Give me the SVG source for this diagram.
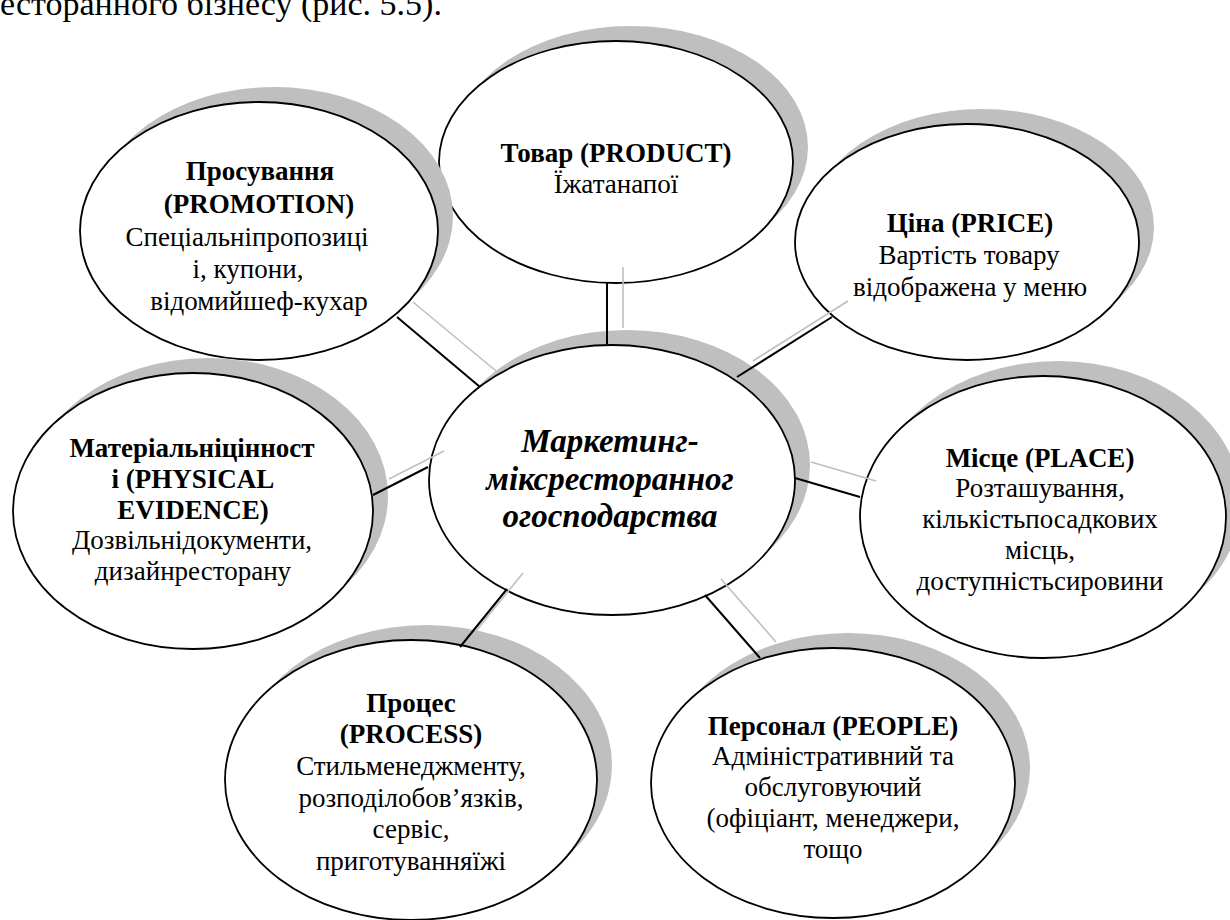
<svg xmlns="http://www.w3.org/2000/svg" width="1230" height="920" viewBox="0 0 1230 920">
  <style>
    .bg { fill: #ffffff; }
    .shadow { fill: #bfbfbf; stroke: none; }
    .oval { fill: #ffffff; stroke: #000000; stroke-width: 1.8; }
    .link { stroke: #000000; stroke-width: 2; fill: none; }
    .link-shadow { stroke: #bfbfbf; stroke-width: 1.6; fill: none; }
    text { font-family: "Liberation Serif", "Times New Roman", serif; fill: #000000; text-anchor: middle; }
    .title { font-size: 27px; font-weight: bold; }
    .body { font-size: 27px; }
    .hub { font-size: 33px; font-weight: bold; font-style: italic; }
    .caption { font-size: 34px; text-anchor: start; }
  </style>

  <rect class="bg" x="0" y="0" width="1230" height="920"/>

  <!-- running text line above the figure -->
  <text class="caption" x="0" y="15">есторанного бізнесу (рис. 5.5).</text>

  <!-- Product -->
  <g id="node-product">
    <ellipse class="shadow" cx="631" cy="147" rx="177" ry="121"/>
    <ellipse class="oval" cx="616" cy="162" rx="177" ry="121"/>
    <text class="title" x="616" y="162">Товар (PRODUCT)</text>
    <text class="body" x="616" y="193">Їжатанапої</text>
  </g>

  <!-- Promotion -->
  <g id="node-promotion">
    <ellipse class="shadow" cx="274" cy="216" rx="179" ry="129"/>
    <ellipse class="oval" cx="259" cy="231" rx="179" ry="129"/>
    <text class="title" x="260" y="180">Просування</text>
    <text class="title" x="259" y="213">(PROMOTION)</text>
    <text class="body" x="247" y="246">Спеціальніпропозиці</text>
    <text class="body" x="248" y="278">і, купони,</text>
    <text class="body" x="259" y="310">відомийшеф-кухар</text>
  </g>

  <!-- Price -->
  <g id="node-price">
    <ellipse class="shadow" cx="982" cy="227" rx="172" ry="118"/>
    <ellipse class="oval" cx="967" cy="242" rx="172" ry="118"/>
    <text class="title" x="970" y="232">Ціна (PRICE)</text>
    <text class="body" x="969" y="264">Вартість товару</text>
    <text class="body" x="970" y="296">відображена у меню</text>
  </g>

  <!-- Physical evidence -->
  <g id="node-physical">
    <ellipse class="shadow" cx="208" cy="496" rx="180" ry="138"/>
    <ellipse class="oval" cx="193" cy="511" rx="180" ry="138"/>
    <text class="title" x="192" y="457">Матеріальніцінност</text>
    <text class="title" x="193" y="488">і (PHYSICAL</text>
    <text class="title" x="193" y="519">EVIDENCE)</text>
    <text class="body" x="192" y="549">Дозвільнідокументи,</text>
    <text class="body" x="193" y="580">дизайнресторану</text>
  </g>

  <!-- Place -->
  <g id="node-place">
    <ellipse class="shadow" cx="1058" cy="502" rx="183" ry="141"/>
    <ellipse class="oval" cx="1043" cy="517" rx="183" ry="141"/>
    <text class="title" x="1040" y="467">Місце (PLACE)</text>
    <text class="body" x="1040" y="497">Розташування,</text>
    <text class="body" x="1040" y="528">кількістьпосадкових</text>
    <text class="body" x="1040" y="559">місць,</text>
    <text class="body" x="1040" y="590">доступністьсировини</text>
  </g>

  <!-- Process -->
  <g id="node-process">
    <ellipse class="shadow" cx="426" cy="765" rx="186" ry="140"/>
    <ellipse class="oval" cx="411" cy="780" rx="186" ry="140"/>
    <text class="title" x="411" y="712">Процес</text>
    <text class="title" x="411" y="743">(PROCESS)</text>
    <text class="body" x="411" y="775">Стильменеджменту,</text>
    <text class="body" x="411" y="807">розподілобов’язків,</text>
    <text class="body" x="411" y="838">сервіс,</text>
    <text class="body" x="411" y="870">приготуванняїжі</text>
  </g>

  <!-- People -->
  <g id="node-people">
    <ellipse class="shadow" cx="848" cy="768" rx="182" ry="135"/>
    <ellipse class="oval" cx="833" cy="783" rx="182" ry="135"/>
    <text class="title" x="833" y="735">Персонал (PEOPLE)</text>
    <text class="body" x="833" y="765">Адміністративний та</text>
    <text class="body" x="833" y="796">обслуговуючий</text>
    <text class="body" x="833" y="827">(офіціант, менеджери,</text>
    <text class="body" x="833" y="858">тощо</text>
  </g>

  <!-- Hub -->
  <g id="node-hub">
    <ellipse class="shadow" cx="627" cy="465" rx="183" ry="135"/>
    <ellipse class="oval" cx="612" cy="480" rx="183" ry="135"/>
    <text class="hub" x="610" y="452">Маркетинг-</text>
    <text class="hub" x="610" y="490">міксресторанног</text>
    <text class="hub" x="610" y="527">огосподарства</text>
  </g>

  <!-- Connectors: each spoke with its offset shadow line -->
  <g id="connectors">
    <g class="spoke-shadows">
      <line class="link-shadow" x1="623" y1="267" x2="623" y2="328"/>
      <line class="link-shadow" x1="848" y1="301" x2="753" y2="361"/>
      <line class="link-shadow" x1="811" y1="462" x2="876" y2="481"/>
      <line class="link-shadow" x1="721" y1="579" x2="776" y2="642"/>
      <line class="link-shadow" x1="523" y1="573" x2="476" y2="631"/>
      <line class="link-shadow" x1="389" y1="479" x2="444" y2="451"/>
      <line class="link-shadow" x1="413" y1="302" x2="496" y2="371"/>
    </g>
    <g class="spokes">
      <line class="link" x1="607" y1="283" x2="607" y2="344"/>
      <line class="link" x1="832" y1="317" x2="737" y2="377"/>
      <line class="link" x1="795" y1="478" x2="860" y2="497"/>
      <line class="link" x1="705" y1="595" x2="760" y2="658"/>
      <line class="link" x1="507" y1="589" x2="460" y2="647"/>
      <line class="link" x1="373" y1="495" x2="428" y2="467"/>
      <line class="link" x1="397" y1="317" x2="480" y2="387"/>
    </g>
  </g>
</svg>
